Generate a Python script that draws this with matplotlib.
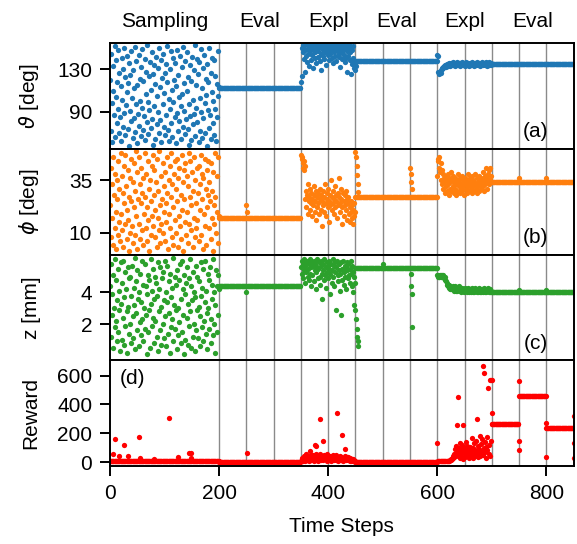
import numpy as np
import matplotlib
matplotlib.use("Agg")
import matplotlib.pyplot as plt
from matplotlib import transforms

plt.rcParams["font.family"] = ["Liberation Sans", "DejaVu Sans"]
plt.rcParams["mathtext.fontset"] = "dejavusans"
plt.rcParams["font.size"] = 15

# ---- phases / layout data (time steps) ----
phase_names = ["Sampling", "Eval", "Expl", "Eval", "Expl", "Eval"]
phase_centers = [100, 275, 400, 525, 650, 775]
episode_marks = [200, 250, 300, 350, 400, 450, 500, 550, 600, 650, 700, 750, 800]
x_ticks = [0, 200, 400, 600, 800]
samp_start, expl1_start, expl2_start = 0, 350, 600
eval_starts = [200, 450, 700]
eval_ends = [350, 600, 851]

# ---- theta [deg] ----
theta_samp = [
    120, 72, 145, 98, 61, 133, 110, 87, 152, 66, 104, 139, 79, 118, 93, 148, 70, 127, 85, 114,
    62, 141, 101, 76, 130, 89, 150, 68, 123, 96, 109, 143, 74, 117, 58, 136, 91, 125, 81, 147,
    103, 65, 129, 112, 84, 151, 71, 97, 138, 60, 115, 88, 144, 77, 121, 100, 67, 132, 94, 149,
    73, 119, 86, 140, 63, 107, 128, 80, 153, 99, 69, 124, 92, 137, 75, 111, 146, 83, 126, 59,
    134, 95, 116, 64, 142, 78, 105, 131, 90, 150, 70, 113, 82, 139, 61, 122, 97, 145, 76, 108,
    127, 68, 135, 87, 118, 152, 73, 102, 62, 130, 93, 147, 79, 111, 66, 141, 99, 120, 85, 136,
    60, 114, 89, 148, 72, 125, 104, 81, 143, 95, 64, 132, 107, 76, 151, 91, 117, 69, 138, 83,
    110, 146, 74, 123, 97, 59, 134, 86, 119, 63, 142, 101, 78, 129, 88, 153, 67, 115, 94, 140,
    80, 126, 61, 137, 103, 72, 149, 90, 112, 65, 131, 84, 144, 98, 70, 121, 106, 58, 135, 92,
    118, 75, 150, 87, 127, 64, 109, 141, 79, 100, 139, 68, 124, 93, 62, 116, 85, 147, 105, 113,
]
theta_expl1 = [
    118, 124, 150, 153, 146, 140, 152, 128, 148, 143, 154, 137, 149, 145, 151, 133, 147, 153, 139, 150,
    144, 152, 131, 148, 154, 141, 146, 150, 136, 153, 149, 142, 147, 151, 138, 154, 145, 129, 150, 152,
    143, 148, 153, 140, 146, 151, 134, 149, 154, 144, 147, 152, 139, 150, 145, 153, 141, 148, 151, 136,
    154, 146, 149, 143, 152, 138, 150, 147, 153, 142, 145, 151, 132, 148, 154, 140, 146, 150, 144, 153,
    137, 149, 152, 141, 147, 128, 151, 143, 154, 139, 146, 126, 150, 135, 148, 141, 152, 131, 138, 134,
]
theta_expl2 = [
    144, 143, 128, 127, 126, 128, 127, 129, 130, 131, 132, 131, 133, 132, 134, 133, 132, 134, 135, 133,
    135, 134, 136, 135, 133, 136, 134, 135, 137, 134, 136, 135, 133, 135, 136, 134, 137, 135, 134, 136,
    135, 133, 136, 135, 134, 137, 135, 136, 134, 135, 136, 133, 135, 137, 134, 135, 136, 134, 135, 133,
    136, 135, 134, 137, 135, 136, 134, 135, 133, 136, 135, 134, 136, 137, 135, 134, 136, 135, 133, 135,
    136, 134, 137, 135, 134, 136, 135, 136, 134, 137, 135, 133, 136, 135, 134, 137, 136, 135, 134, 136,
]
theta_eval = [112, 137.5, 135.5]
theta_extra_x = [450, 451]
theta_extra_y = [129, 133]

# ---- phi [deg] ----
phi_samp = [
    23, 8, 41, 17, 33, 4, 46, 28, 12, 38, 20, 2, 35, 26, 9, 44, 15, 31, 6, 48,
    19, 37, 11, 29, 3, 42, 24, 14, 47, 32, 7, 21, 40, 16, 27, 1, 36, 10, 45, 25,
    13, 34, 5, 43, 22, 30, 9, 49, 18, 39, 2, 26, 14, 46, 33, 7, 24, 41, 11, 29,
    36, 4, 19, 48, 27, 12, 38, 22, 6, 44, 16, 31, 1, 35, 25, 9, 42, 18, 47, 13,
    28, 40, 8, 21, 34, 3, 45, 17, 30, 11, 49, 23, 5, 37, 14, 26, 43, 10, 32, 20,
    6, 39, 24, 15, 46, 29, 2, 35, 19, 42, 12, 27, 48, 8, 33, 22, 4, 38, 16, 44,
    31, 10, 45, 25, 3, 36, 18, 41, 13, 28, 7, 47, 21, 34, 1, 40, 26, 15, 43, 9,
    37, 20, 5, 32, 48, 14, 27, 44, 11, 23, 39, 3, 30, 17, 46, 8, 35, 24, 12, 41,
    16, 29, 42, 6, 33, 21, 47, 9, 38, 26, 2, 36, 19, 45, 13, 31, 4, 40, 22, 28,
    44, 12, 34, 25, 7, 43, 17, 30, 1, 39, 23, 14, 48, 27, 10, 37, 20, 5, 46, 18,
]
phi_expl1 = [
    47, 45, 46, 43, 41, 44, 40, 42, 26, 30, 22, 28, 33, 19, 25, 27, 31, 21, 24, 29,
    18, 26, 23, 32, 28, 20, 25, 30, 16, 27, 22, 29, 24, 19, 31, 26, 21, 28, 13, 25,
    30, 23, 27, 20, 33, 24, 18, 29, 26, 22, 31, 25, 15, 28, 23, 35, 21, 27, 24, 30,
    19, 26, 32, 22, 28, 25, 17, 29, 23, 36, 27, 20, 24, 31, 26, 14, 22, 29, 25, 18,
    28, 23, 30, 21, 26, 16, 24, 27, 19, 22, 15, 25, 20, 17, 23, 14, 21, 18, 24, 20,
]
phi_expl2 = [
    37, 44, 45, 41, 46, 39, 43, 35, 40, 33, 38, 31, 36, 34, 29, 37, 32, 35, 30, 38,
    33, 28, 36, 31, 34, 39, 30, 35, 32, 37, 29, 34, 31, 36, 33, 28, 35, 30, 38, 32,
    34, 29, 36, 31, 33, 37, 30, 35, 32, 28, 34, 36, 31, 33, 29, 35, 38, 32, 30, 34,
    36, 31, 33, 37, 29, 35, 32, 34, 30, 38, 33, 31, 36, 29, 34, 32, 37, 30, 35, 33,
    31, 36, 34, 39, 32, 35, 30, 37, 33, 41, 34, 31, 36, 38, 33, 40, 35, 41, 37, 34,
]
phi_eval = [17.2, 27.0, 34.2]
phi_extra_x = [250, 251, 450, 451, 452, 453, 454, 455, 550, 551, 552, 553, 750, 800]
phi_extra_y = [23, 20, 48.6, 46, 41.7, 37.4, 33.4, 29.4, 41, 38, 34, 31, 36, 36]

# ---- z [mm] ----
z_samp = [
    4.4, 1.2, 5.8, 2.6, 3.9, 0.5, 5.1, 3.0, 1.8, 6.1, 2.2, 4.8, 0.9, 3.5, 5.5, 1.5, 4.1, 2.9, 0.3, 5.9,
    3.3, 1.0, 4.6, 2.4, 6.0, 0.7, 3.7, 5.3, 1.9, 4.2, 2.8, 0.2, 5.6, 3.1, 1.4, 4.9, 2.0, 5.0, 0.8, 3.8,
    5.7, 2.5, 1.1, 4.3, 3.2, 6.2, 0.4, 2.7, 4.7, 1.6, 5.4, 3.6, 0.6, 4.0, 2.1, 5.2, 1.3, 3.4, 6.0, 2.3,
    0.9, 4.5, 3.0, 1.7, 5.8, 2.6, 4.4, 0.1, 3.9, 5.1, 1.5, 2.9, 4.8, 0.5, 3.3, 6.1, 1.9, 4.1, 2.4, 5.5,
    3.6, 0.8, 5.0, 2.2, 4.6, 1.2, 3.8, 5.9, 0.3, 2.8, 4.2, 1.6, 5.6, 3.1, 0.7, 4.9, 2.0, 5.3, 1.1, 3.5,
    6.0, 2.5, 4.0, 0.6, 3.4, 5.7, 1.4, 2.7, 4.7, 0.2, 5.2, 3.7, 1.8, 4.3, 2.3, 6.2, 0.9, 3.2, 5.0, 1.7,
    4.5, 2.9, 0.4, 5.4, 3.0, 1.3, 4.8, 2.1, 5.8, 0.8, 3.6, 6.0, 1.5, 4.2, 2.6, 0.1, 5.1, 3.9, 1.0, 4.6,
    2.4, 5.6, 3.3, 0.7, 4.9, 1.9, 6.1, 2.8, 0.5, 4.4, 3.5, 1.2, 5.3, 2.0, 4.0, 0.3, 3.7, 5.7, 1.6, 2.9,
    5.0, 1.1, 3.1, 4.7, 0.6, 2.5, 5.9, 3.8, 1.8, 4.3, 0.9, 5.5, 2.2, 3.4, 6.0, 1.4, 4.1, 2.7, 0.4, 5.2,
    3.0, 4.8, 1.7, 5.6, 2.3, 0.8, 4.5, 3.6, 1.3, 6.1, 2.0, 4.0, 0.2, 3.2, 5.4, 1.5, 4.4, 2.6, 5.1, 4.2,
]
z_expl1 = [
    5.6, 6.0, 5.2, 5.8, 4.9, 6.1, 5.4, 5.7, 4.6, 5.9, 5.3, 6.0, 5.0, 5.5, 4.8, 5.8, 5.2, 6.1, 4.4, 5.6,
    5.9, 5.1, 5.7, 4.7, 6.0, 5.4, 5.8, 4.2, 5.3, 5.6, 6.1, 4.9, 5.5, 5.9, 5.0, 4.5, 5.7, 6.0, 5.2, 3.6,
    5.8, 5.4, 4.8, 6.1, 5.1, 5.6, 4.3, 5.9, 5.3, 5.7, 4.9, 6.0, 5.5, 3.9, 5.2, 5.8, 4.6, 5.4, 6.1, 5.0,
    5.7, 4.4, 5.9, 5.3, 2.9, 5.6, 6.0, 5.1, 4.7, 5.8, 5.4, 4.1, 5.2, 5.9, 2.6, 5.5, 4.8, 6.0, 5.3, 4.5,
    5.7, 5.0, 5.6, 4.2, 5.9, 5.4, 4.9, 5.8, 5.1, 4.6, 5.5, 6.0, 5.2, 4.4, 5.7, 4.0, 5.3, 3.2, 5.0, 4.6,
]
z_expl2 = [
    5.1, 5.0, 5.1, 5.0, 5.0, 5.1, 5.0, 5.1, 5.0, 5.1, 5.0, 5.1, 5.0, 4.9, 5.0, 4.8, 4.7, 4.6, 4.5, 4.5,
    4.4, 4.5, 4.3, 4.2, 4.4, 4.3, 4.2, 4.3, 4.4, 4.2, 4.1, 4.3, 4.2, 4.4, 4.1, 4.2, 4.3, 4.1, 4.2, 4.4,
    4.2, 4.1, 4.3, 4.2, 4.0, 4.2, 4.3, 4.1, 4.2, 4.0, 4.1, 4.3, 4.2, 4.1, 4.0, 4.2, 4.1, 4.3, 4.0, 4.1,
    4.2, 4.0, 4.1, 4.3, 4.1, 4.0, 4.2, 4.1, 4.0, 4.2, 4.3, 4.1, 4.0, 4.1, 4.2, 4.0, 4.1, 4.3, 4.0, 4.2,
    4.1, 4.0, 4.2, 4.1, 4.0, 4.1, 4.3, 4.0, 4.2, 4.1, 4.0, 4.2, 4.1, 4.3, 4.0, 4.1, 4.2, 4.0, 4.1, 4.0,
]
z_eval = [4.42, 5.58, 4.0]
z_extra_x = [250, 450, 451, 452, 453, 454, 455, 500, 551, 552, 553, 554, 750, 800]
z_extra_y = [4.0, 2.9, 2.3, 1.7, 1.2, 0.9, 0.6, 5.8, 5.2, 4.4, 3.9, 1.8, 4.15, 4.15]

# ---- reward ----
reward_expl1 = [
    5, 12, 30, 8, 20, 45, 15, 25, 10, 38, 60, 18, 28, 40, 22, 9, 35, 74, 50, 14,
    32, 26, 48, 11, 36, 122, 20, 55, 115, 17, 30, 42, 8, 25, 60, 299, 14, 33, 21, 46,
    145, 12, 28, 52, 19, 37, 24, 58, 10, 31, 22, 44, 15, 27, 40, 9, 35, 18, 26, 50,
    13, 29, 21, 38, 16, 47, 340, 24, 11, 34, 28, 20, 43, 14, 36, 186, 25, 9, 30, 19,
    92, 42, 27, 12, 33, 22, 15, 38, 26, 8, 31, 18, 11, 24, 16, 9, 20, 12, 7, 5,
]
reward_expl2 = [
    136, 5, 5, 5, 5, 5, 5, 5, 5, 5, 5, 5, 5, 5, 5, 5, 5, 5, 5, 5,
    5, 8, 10, 12, 15, 18, 22, 25, 30, 45, 60, 35, 90, 50, 110, 40, 75, 260, 450, 95,
    55, 130, 30, 85, 45, 120, 70, 25, 260, 100, 60, 35, 140, 80, 50, 115, 40, 90, 65, 30,
    105, 55, 75, 170, 45, 95, 30, 130, 60, 85, 40, 150, 70, 301, 110, 35, 90, 60, 180, 45,
    125, 75, 160, 669, 50, 95, 616, 140, 70, 105, 30, 175, 85, 513, 60, 120, 40, 572, 150, 572,
]
reward_flat_starts = [0, 200, 450, 700, 750, 800]
reward_flat_ends = [200, 350, 600, 750, 800, 851]
reward_flat_vals = [7, 4, 4, 267, 460, 240]
reward_extra_x = [5, 9, 17, 26, 33, 52, 55, 80, 107, 124, 144, 148, 149, 251,
                  700, 700, 750, 750, 750, 800, 800, 850, 850, 850]
reward_extra_y = [60, 159, 40, 122, 40, 172, 30, 20, 308, 38, 63, 28, 65, 63,
                  572, 340, 561, 147, 87, 271, 37, 317, 133, 27]


def panel_points(samp, expl1, expl2, flat_starts, flat_ends, flat_vals, extra_x, extra_y):
    xs, ys = [], []
    for start, vals in ((samp_start, samp), (expl1_start, expl1), (expl2_start, expl2)):
        xs.append(np.arange(start, start + len(vals)))
        ys.append(np.asarray(vals, dtype=float))
    for a, b, v in zip(flat_starts, flat_ends, flat_vals):
        xs.append(np.arange(a, b))
        ys.append(np.full(b - a, v, dtype=float))
    xs.append(np.asarray(extra_x, dtype=float))
    ys.append(np.asarray(extra_y, dtype=float))
    return np.concatenate(xs), np.concatenate(ys)


panels = [
    dict(pts=panel_points(theta_samp, theta_expl1, theta_expl2, eval_starts, eval_ends,
                          theta_eval, theta_extra_x, theta_extra_y),
         color="tab:blue", ylabel=r"$\vartheta$ [deg]", ylim=(55, 155), yticks=[90, 130],
         tag="(a)"),
    dict(pts=panel_points(phi_samp, phi_expl1, phi_expl2, eval_starts, eval_ends,
                          phi_eval, phi_extra_x, phi_extra_y),
         color="tab:orange", ylabel=r"$\phi$ [deg]", ylim=(-0.5, 50), yticks=[10, 35],
         tag="(b)"),
    dict(pts=panel_points(z_samp, z_expl1, z_expl2, eval_starts, eval_ends,
                          z_eval, z_extra_x, z_extra_y),
         color="tab:green", ylabel="z [mm]", ylim=(-0.3, 6.4), yticks=[2, 4],
         tag="(c)"),
    dict(pts=panel_points([], reward_expl1, reward_expl2, reward_flat_starts,
                          reward_flat_ends, reward_flat_vals, reward_extra_x, reward_extra_y),
         color="red", ylabel="Reward", ylim=(-28, 705), yticks=[0, 200, 400, 600],
         tag="(d)"),
]

fig, axes = plt.subplots(4, 1, figsize=(5.77, 5.44), dpi=100, sharex=True)
fig.subplots_adjust(left=0.191, right=0.994, top=0.921, bottom=0.143, hspace=0)

for i, (ax, p) in enumerate(zip(axes, panels)):
    for xm in episode_marks:
        ax.axvline(xm, color="#8a8a8a", lw=1.0, zorder=0)
    x, y = p["pts"]
    ax.plot(x, y, "o", ms=3.8, mew=0, color=p["color"], zorder=2)
    ax.set_xlim(0, 850)
    ax.set_ylim(*p["ylim"])
    ax.set_yticks(p["yticks"])
    ax.set_ylabel(p["ylabel"])
    ax.yaxis.set_label_coords(-0.15, 0.5)
    for s in ax.spines.values():
        s.set_linewidth(1.4)
    ax.tick_params(direction="out", length=7, width=1.4, labelsize=15, pad=6)
    if i < 3:
        ax.tick_params(axis="x", bottom=False)
        ax.text(0.945, 0.16, p["tag"], transform=ax.transAxes, ha="right", va="center")
    else:
        ax.text(0.02, 0.83, p["tag"], transform=ax.transAxes, ha="left", va="center")

axes[-1].set_xticks(x_ticks)
axes[-1].set_xlabel("Time Steps", labelpad=10)

trans = transforms.blended_transform_factory(axes[0].transData, axes[0].transAxes)
for name, xc in zip(phase_names, phase_centers):
    axes[0].text(xc, 1.2, name, transform=trans, ha="center", va="center")

fig.savefig("out.png", dpi=100)
